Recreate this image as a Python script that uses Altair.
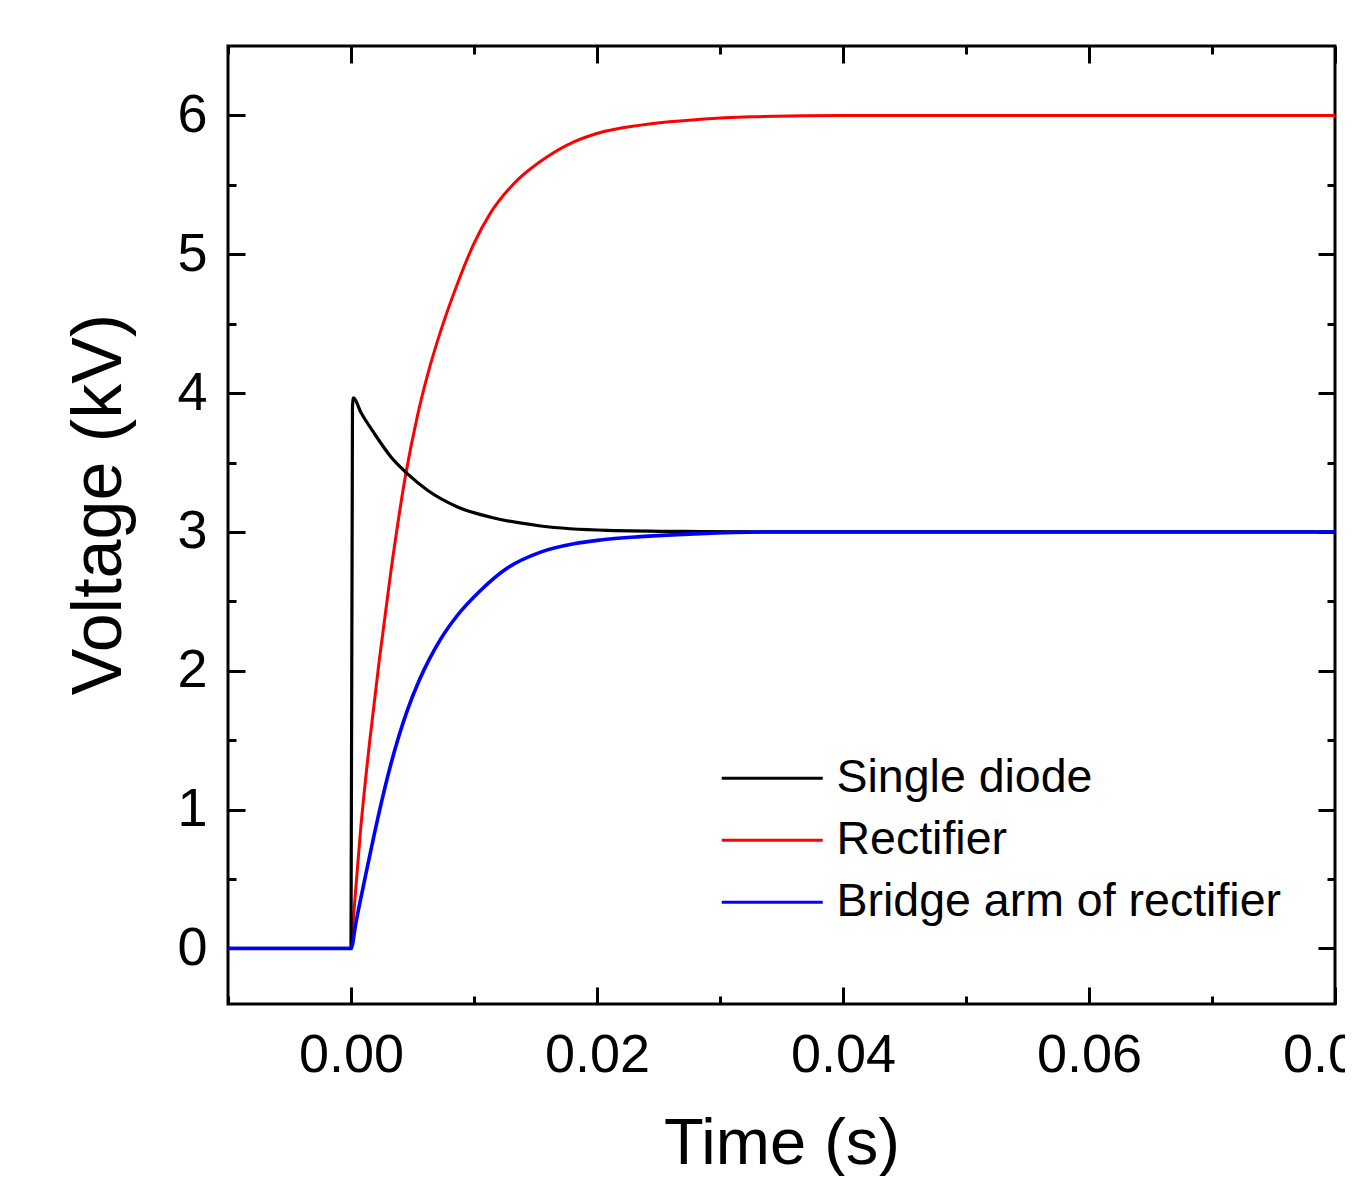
import altair as alt
import pandas as pd

FONT = "Liberation Sans"

# ---- data ----
series_names = ["Single diode", "Rectifier", "Bridge arm of rectifier"]
series_colors = ["#000000", "#ff0000", "#0000ff"]

t_single = [-0.01, 0.0, 0.00012, 0.0002, 0.00081, 0.00189, 0.00325, 0.0046, 0.00622,
            0.00866, 0.01136, 0.01542, 0.02083, 0.0284, 0.035, 0.05, 0.08]
v_single = [0.0, 0.0, 3.90, 3.965, 3.86, 3.71, 3.54, 3.418, 3.30,
            3.18, 3.106, 3.043, 3.012, 3.003, 3.0, 3.0, 3.0]

t_rect = [-0.01, 0.0, 0.00014, 0.0008, 0.0015, 0.0023, 0.00325, 0.00446, 0.00541, 0.00622,
          0.0073, 0.00866, 0.01001, 0.01136, 0.01325, 0.01542, 0.01812, 0.02, 0.02353,
          0.0284, 0.0325, 0.04, 0.06, 0.08]
v_rect = [0.0, 0.0, 0.154, 0.875, 1.476, 2.077, 2.72, 3.42, 3.84, 4.13,
          4.45, 4.79, 5.08, 5.30, 5.51, 5.67, 5.81, 5.87, 5.93,
          5.972, 5.99, 6.0, 6.0, 6.0]

t_bridge = [-0.01, 0.0, 0.00041, 0.00122, 0.00216, 0.00325, 0.0046, 0.00554, 0.00635, 0.0073,
            0.00866, 0.01055, 0.01271, 0.01542, 0.01812, 0.02028, 0.02353, 0.0284, 0.035,
            0.05, 0.08]
v_bridge = [0.0, 0.0, 0.19, 0.54, 0.93, 1.33, 1.72, 1.93, 2.08, 2.23,
            2.40, 2.58, 2.74, 2.855, 2.915, 2.942, 2.966, 2.988, 3.0,
            3.0, 3.0]

line_widths = [3.2, 3.0, 3.6]

x_major_ticks = [0.0, 0.02, 0.04, 0.06, 0.08]
x_minor_ticks = [-0.01, 0.01, 0.03, 0.05, 0.07]
y_major_ticks = [0, 1, 2, 3, 4, 5, 6]
y_minor_ticks = [0.5, 1.5, 2.5, 3.5, 4.5, 5.5]

x_domain = [-0.01, 0.08]
y_domain = [-0.4, 6.5]

df_single = pd.DataFrame({"t": t_single, "v": v_single, "series": series_names[0]})
df_rect = pd.DataFrame({"t": t_rect, "v": v_rect, "series": series_names[1]})
df_bridge = pd.DataFrame({"t": t_bridge, "v": v_bridge, "series": series_names[2]})

xscale = alt.Scale(domain=x_domain, nice=False, zero=False)
yscale = alt.Scale(domain=y_domain, nice=False, zero=False)
color_scale = alt.Scale(domain=series_names, range=series_colors)

MAJ = 17
MIN = 8
TW = 3

x_major_axis = alt.Axis(
    orient="bottom", values=x_major_ticks, format=".2f", offset=-MAJ, tickSize=MAJ,
    tickWidth=TW, tickColor="black", domain=False, grid=False,
    labelFont=FONT, labelFontSize=54, labelColor="black", labelPadding=24,
    labelFlush=False, labelOverlap=False,
    title="Time (s)", titleFont=FONT, titleFontSize=65, titleFontWeight="normal",
    titleColor="black", titleBaseline="alphabetic", titleY=176,
)
y_major_axis = alt.Axis(
    orient="left", values=y_major_ticks, format="d", offset=-MAJ, tickSize=MAJ,
    tickWidth=TW, tickColor="black", domain=False, grid=False,
    labelFont=FONT, labelFontSize=54, labelColor="black", labelPadding=21,
    labelFlush=False, labelOverlap=False,
    title="Voltage (kV)", titleFont=FONT, titleFontSize=70, titleFontWeight="normal",
    titleColor="black", titleAngle=270, titleBaseline="alphabetic", titleAlign="center",
    titleX=-125, titleY=458,
)

legend = alt.Legend(
    orient="none", legendX=521, legendY=709, title=None,
    symbolType="M-2.5,0H2.5", symbolSize=1632, symbolStrokeWidth=3,
    labelFont=FONT, labelFontSize=46.5, labelColor="black", labelOffset=41,
    labelBaseline="middle", rowPadding=15, padding=0, labelLimit=0,
)


def line(df, sw):
    return alt.Chart(df).mark_line(strokeWidth=sw, interpolate="monotone").encode(
        x=alt.X("t:Q", scale=xscale, axis=x_major_axis),
        y=alt.Y("v:Q", scale=yscale, axis=y_major_axis),
        color=alt.Color("series:N", scale=color_scale, legend=legend),
    )


data_layer = alt.layer(
    line(df_rect, line_widths[1]),
    line(df_single, line_widths[0]),
    line(df_bridge, line_widths[2]),
)


def tick_layer(xorient, yorient, xvals, yvals, size):
    xa = alt.Axis(orient=xorient, values=xvals, offset=-size, tickSize=size, tickWidth=TW,
                  tickColor="black", domain=False, grid=False, labels=False, title=None)
    ya = alt.Axis(orient=yorient, values=yvals, offset=-size, tickSize=size, tickWidth=TW,
                  tickColor="black", domain=False, grid=False, labels=False, title=None)
    return alt.Chart(df_single).mark_point(opacity=0).encode(
        x=alt.X("t:Q", scale=xscale, axis=xa),
        y=alt.Y("v:Q", scale=yscale, axis=ya),
    )


chart = alt.layer(
    data_layer,
    tick_layer("bottom", "left", x_minor_ticks, y_minor_ticks, MIN),
    tick_layer("top", "right", x_major_ticks, y_major_ticks, MAJ),
    tick_layer("top", "right", x_minor_ticks, y_minor_ticks, MIN),
).resolve_scale(
    x="independent", y="independent", color="shared"
).properties(
    width=1107, height=958,
    autosize=alt.AutoSizeParams(type="none"),
    padding={"left": 220, "top": 38, "right": 10, "bottom": 172},
).configure_view(
    stroke="black", strokeWidth=3
)

chart.save("out.html", embed_options={"renderer": "svg", "actions": False})
